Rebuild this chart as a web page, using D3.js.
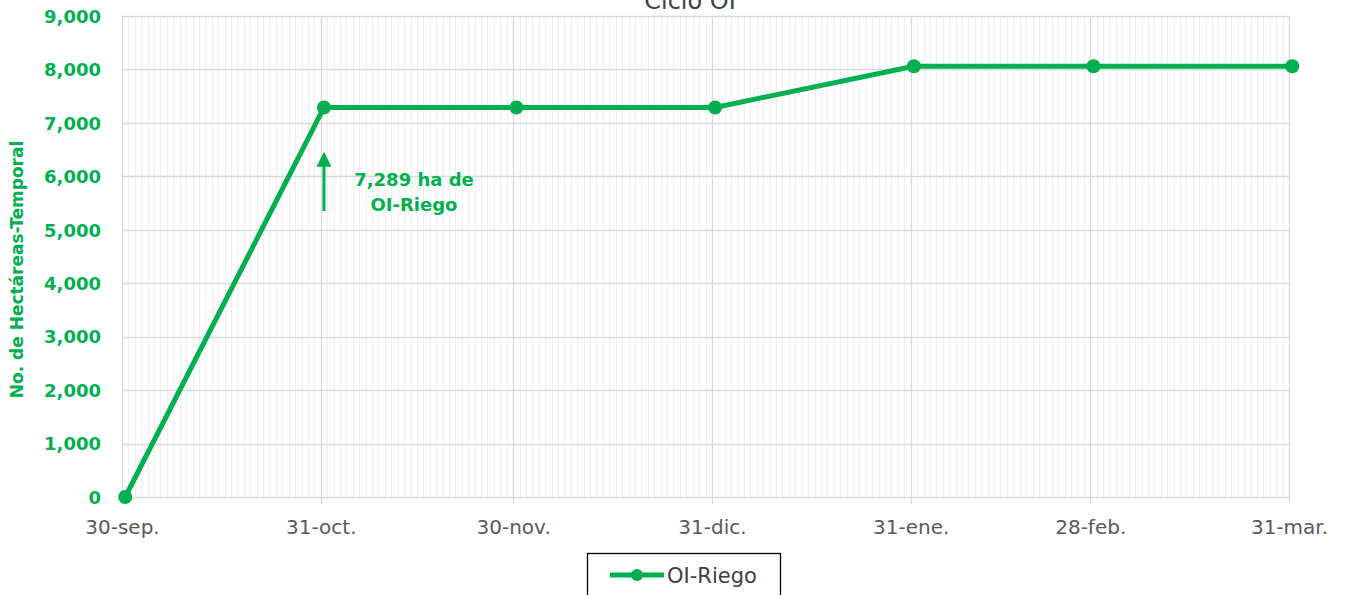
<!DOCTYPE html>
<html><head><meta charset="utf-8">
<script src="https://cdn.jsdelivr.net/npm/d3@7"></script>
<style>body{margin:0;background:#fff}svg{display:block}text{font-family:"DejaVu Sans","Noto Sans",sans-serif}</style>
</head><body><svg id="c" width="1346" height="595"></svg>
<script>
const title = "Ciclo OI";
const yLabel = "No. de Hectáreas-Temporal";
const seriesName = "OI-Riego";
const dates = ["2022-09-30T12:00","2022-10-31T12:00","2022-11-30T12:00","2022-12-31T12:00","2023-01-31T12:00","2023-02-28T12:00","2023-03-31T12:00"];
const values = [0, 7289, 7289, 7289, 8060, 8060, 8060];
const tickDates = ["2022-09-30","2022-10-31","2022-11-30","2022-12-31","2023-01-31","2023-02-28","2023-03-31"];
const tickLabels = ["30-sep.","31-oct.","30-nov.","31-dic.","31-ene.","28-feb.","31-mar."];
const yTicks = [0,1000,2000,3000,4000,5000,6000,7000,8000,9000];
const annotation = ["7,289 ha de","OI-Riego"];

const green = "#00b050";
const svg = d3.select("#c");
const parse = d3.isoParse;
const m = {l:122, r:1289, t:16, b:497};
const x = d3.scaleTime().domain([parse(tickDates[0]), parse(tickDates[tickDates.length-1])]).range([m.l, m.r]);
const y = d3.scaleLinear().domain([0,9000]).range([m.b, m.t]);

// minor daily gridlines
const days = d3.timeDay.range(x.domain()[0], d3.timeDay.offset(x.domain()[1],1));
svg.append("g").selectAll("line").data(days).join("line")
  .attr("x1",d=>Math.round(x(d))+0.5).attr("x2",d=>Math.round(x(d))+0.5)
  .attr("y1",m.t).attr("y2",m.b+4).attr("stroke","#efefef").attr("stroke-width",1);
// major horizontal gridlines
svg.append("g").selectAll("line").data(yTicks).join("line")
  .attr("x1",m.l).attr("x2",m.r).attr("y1",d=>Math.round(y(d))+0.5).attr("y2",d=>Math.round(y(d))+0.5)
  .attr("stroke","#d9d9d9").attr("stroke-width",1.3);
// major vertical gridlines
const tds = tickDates.map(parse);
svg.append("g").selectAll("line").data(tds).join("line")
  .attr("x1",d=>Math.round(x(d))+0.5).attr("x2",d=>Math.round(x(d))+0.5)
  .attr("y1",m.t).attr("y2",m.b+7).attr("stroke","#d9d9d9").attr("stroke-width",1.3);

// x axis labels
const xAxis = d3.axisBottom(x).tickValues(tds).tickFormat((d,i)=>tickLabels[i]).tickSize(0);
const gx = svg.append("g").attr("transform",`translate(0,${m.b})`).call(xAxis);
gx.select(".domain").remove();
gx.selectAll("text").attr("fill","#595959").style("font-size","20px").attr("dy","0.35em").attr("y",30);

// y axis labels
const yAxis = d3.axisLeft(y).tickValues(yTicks).tickFormat(d3.format(",")).tickSize(0).tickPadding(21);
const gy = svg.append("g").attr("transform",`translate(${m.l},0)`).call(yAxis);
gy.select(".domain").remove();
gy.selectAll("text").attr("fill",green).style("font-size","18px").style("font-weight","bold").attr("dy","0.35em");

// y label
svg.append("text").attr("transform",`translate(23,${(m.t+m.b)/2+13}) rotate(-90)`)
  .attr("text-anchor","middle").attr("fill",green).style("font-size","17px").style("font-weight","bold").text(yLabel);

// title
svg.append("text").attr("x",690).attr("y",9).attr("text-anchor","middle").attr("fill","#404040")
  .style("font-size","24px").text(title);

// line
const pts = dates.map((d,i)=>({d:parse(d), v:values[i]}));
svg.append("path").datum(pts).attr("fill","none").attr("stroke",green).attr("stroke-width",5)
  .attr("stroke-linejoin","round").attr("d",d3.line().x(p=>x(p.d)).y(p=>y(p.v)));
svg.append("g").selectAll("circle").data(pts).join("circle")
  .attr("cx",p=>x(p.d)).attr("cy",p=>y(p.v)).attr("r",7).attr("fill",green);

// annotation arrow
const ax = x(parse("2022-10-31T12:00"));
svg.append("defs").append("marker").attr("id","ah").attr("viewBox","0 0 10 10").attr("refX",5).attr("refY",5)
  .attr("markerWidth",5).attr("markerHeight",5).attr("orient","auto")
  .append("path").attr("d","M0,0L10,5L0,10z").attr("fill",green);
svg.append("line").attr("x1",ax).attr("x2",ax).attr("y1",y(5350)).attr("y2",y(6320))
  .attr("stroke",green).attr("stroke-width",3).attr("marker-end","url(#ah)");
svg.append("text").attr("x",414).attr("text-anchor","middle").attr("fill",green)
  .style("font-size","18px").style("font-weight","bold")
  .selectAll("tspan").data(annotation).join("tspan").attr("x",414).attr("y",(d,i)=>186+i*25).text(d=>d);

// legend
const lg = svg.append("g");
lg.append("rect").attr("x",587.5).attr("y",553.5).attr("width",193).attr("height",50).attr("fill","#fff").attr("stroke","#000").attr("stroke-width",1.3);
lg.append("line").attr("x1",610).attr("x2",664).attr("y1",575).attr("y2",575).attr("stroke",green).attr("stroke-width",5);
lg.append("circle").attr("cx",637).attr("cy",575).attr("r",6).attr("fill",green);
lg.append("text").attr("x",667).attr("y",575).attr("dy","0.36em").attr("fill","#404040").style("font-size","21px").text(seriesName);
</script></body></html>
